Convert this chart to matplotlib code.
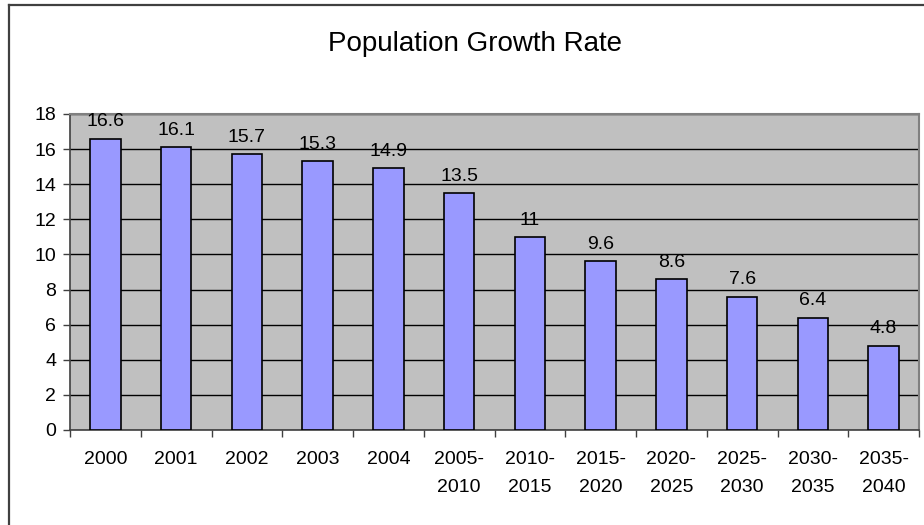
import matplotlib
matplotlib.use("Agg")
import matplotlib.pyplot as plt
from matplotlib.lines import Line2D
import numpy as np

categories = ["2000", "2001", "2002", "2003", "2004", "2005-\n2010", "2010-\n2015",
              "2015-\n2020", "2020-\n2025", "2025-\n2030", "2030-\n2035", "2035-\n2040"]
values = [16.6, 16.1, 15.7, 15.3, 14.9, 13.5, 11, 9.6, 8.6, 7.6, 6.4, 4.8]
value_labels = ["16.6", "16.1", "15.7", "15.3", "14.9", "13.5", "11", "9.6", "8.6", "7.6", "6.4", "4.8"]
yticks = [0, 2, 4, 6, 8, 10, 12, 14, 16, 18]

plt.rcParams['font.family'] = ['Liberation Sans', 'DejaVu Sans']

W, H = 924, 525
fig = plt.figure(figsize=(W / 100, H / 100), dpi=100)
fig.patch.set_facecolor("white")

# outer chart border (only top & left visible in crop)
bx = 9 / W
by = 1 - 5 / H
fig.add_artist(Line2D([bx, bx], [0, by], transform=fig.transFigure, color="#404040", lw=1.6))
fig.add_artist(Line2D([bx, 1], [by, by], transform=fig.transFigure, color="#404040", lw=1.6))

left, right, top, bottom = 70, 919, 114, 430
ax = fig.add_axes([left / W, (H - bottom) / H, (right - left) / W, (bottom - top) / H])
ax.set_facecolor("#C0C0C0")

x = np.arange(len(categories))
bars = ax.bar(x, values, width=0.43, color="#9999FF", edgecolor="black", linewidth=1.2, zorder=3)

for xi, v, lab in zip(x, values, value_labels):
    ax.annotate(lab, (xi, v), xytext=(0, 6), textcoords="offset points",
                ha="center", va="bottom", fontsize=14, color="black")

ax.set_xlim(-0.5, len(categories) - 0.5)
ax.set_ylim(0, 18)
ax.set_yticks(yticks)
ax.set_yticklabels([str(t) for t in yticks], fontsize=14)
ax.yaxis.grid(True, color="#000000", lw=1.0, zorder=1)
ax.set_axisbelow(True)

# category labels at centers, ticks at boundaries
ax.set_xticks(np.arange(len(categories) + 1) - 0.5)
ax.set_xticklabels([])
ax.tick_params(axis="x", length=5, width=1, color="#404040")
ax.tick_params(axis="y", length=5, width=1, color="#404040", pad=5)
for xi, c in zip(x, categories):
    ax.text(xi, -0.068, c, transform=ax.get_xaxis_transform(), ha="center", va="top",
            fontsize=14, linespacing=1.78)

for side in ["top", "right"]:
    ax.spines[side].set_color("#808080")
    ax.spines[side].set_linewidth(1.5)
for side in ["left", "bottom"]:
    ax.spines[side].set_color("#404040")
    ax.spines[side].set_linewidth(1.2)

fig.text(475 / W, 1 - 44 / H, "Population Growth Rate",
         ha="center", va="center", fontsize=20)

fig.savefig("out.png", dpi=100)
